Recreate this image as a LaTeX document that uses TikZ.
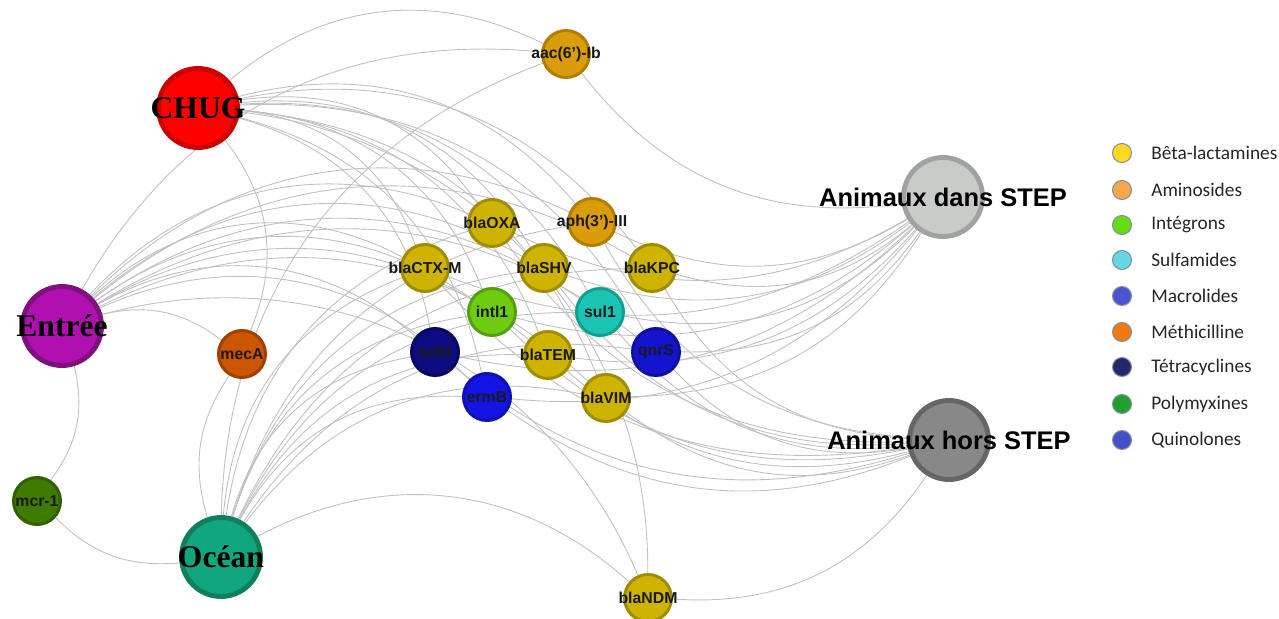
\documentclass[tikz,border=0pt]{standalone}
\usepackage{fontspec}
\setmainfont{Liberation Serif}
\setsansfont{Liberation Sans}
\newfontfamily\legfont{Carlito}
\usetikzlibrary{backgrounds}
\definecolor{linkgray}{RGB}{192,192,192}
\definecolor{betafill}{RGB}{206,180,0}
\definecolor{betadraw}{RGB}{160,140,0}
\definecolor{aminofill}{RGB}{218,156,10}
\definecolor{aminodraw}{RGB}{176,125,0}
\definecolor{integfill}{RGB}{110,204,16}
\definecolor{integdraw}{RGB}{80,160,16}
\definecolor{sulffill}{RGB}{28,196,180}
\definecolor{sulfdraw}{RGB}{16,160,144}
\definecolor{tetrafill}{RGB}{12,12,128}
\definecolor{tetradraw}{RGB}{8,8,96}
\definecolor{quinofill}{RGB}{20,20,208}
\definecolor{quinodraw}{RGB}{16,16,160}
\definecolor{macrofill}{RGB}{20,20,228}
\definecolor{macrodraw}{RGB}{16,16,176}
\definecolor{methifill}{RGB}{204,85,0}
\definecolor{methidraw}{RGB}{160,64,0}
\definecolor{polyfill}{RGB}{64,122,0}
\definecolor{polydraw}{RGB}{48,96,0}
\definecolor{chugfill}{RGB}{255,0,0}
\definecolor{chugdraw}{RGB}{204,0,0}
\definecolor{entreefill}{RGB}{176,16,176}
\definecolor{entreedraw}{RGB}{128,16,128}
\definecolor{oceanfill}{RGB}{18,166,126}
\definecolor{oceandraw}{RGB}{14,128,96}
\definecolor{dansfill}{RGB}{200,204,200}
\definecolor{dansdraw}{RGB}{160,162,160}
\definecolor{horsfill}{RGB}{136,136,136}
\definecolor{horsdraw}{RGB}{102,102,102}
\definecolor{legborder}{RGB}{128,144,160}
\definecolor{legbeta}{RGB}{255,217,31}
\definecolor{legamino}{RGB}{245,168,74}
\definecolor{leginteg}{RGB}{102,221,17}
\definecolor{legsulf}{RGB}{102,214,224}
\definecolor{legmacro}{RGB}{75,85,209}
\definecolor{legmethi}{RGB}{240,122,16}
\definecolor{legtetra}{RGB}{34,40,106}
\definecolor{legpoly}{RGB}{34,160,46}
\definecolor{legquino}{RGB}{68,80,198}

\begin{document}
\begin{tikzpicture}[x=0.02cm, y=-0.02cm,
  site/.style={circle, inner sep=0pt, minimum size=1.58cm, line width=2.8pt},
  sitetext/.style={font=\fontsize{18}{18}\selectfont\bfseries, text=black},
  stationtext/.style={font=\sffamily\fontsize{14.5}{14.5}\selectfont\bfseries, text=black},
  gene/.style={circle, inner sep=0pt, minimum size=0.94cm, line width=1.7pt, label={[genetext]center:#1}},
  genetext/.style={font=\sffamily\fontsize{9}{9}\selectfont\bfseries, text=black!90},
  beta/.style={fill=betafill, draw=betadraw},
  amino/.style={fill=aminofill, draw=aminodraw},
  link/.style={draw=linkgray, line width=0.5pt},
  legdot/.style={circle, inner sep=0pt, minimum size=0.38cm, draw=legborder, line width=0.6pt},
  legtext/.style={anchor=west, inner sep=0pt, text=black!85, font=\legfont\fontsize{11}{11}\selectfont}]
\useasboundingbox (0,0) rectangle (1279,619);
\clip (0,0) rectangle (1279,619);

\node[site, fill=chugfill, draw=chugdraw, label={[sitetext]center:CHUG}] (chug) at (198,108) {};
\node[site, fill=entreefill, draw=entreedraw, label={[sitetext]center:Entrée}] (entree) at (62,326) {};
\node[site, fill=oceanfill, draw=oceandraw, label={[sitetext]center:Océan}] (ocean) at (221,557) {};
\node[site, fill=dansfill, draw=dansdraw, label={[stationtext]center:Animaux dans STEP}] (dans) at (943,197) {};
\node[site, fill=horsfill, draw=horsdraw, label={[stationtext]center:Animaux hors STEP}] (hors) at (949,440) {};

\node[gene={aac(6')-Ib}, amino] (aac) at (566,54) {};
\node[gene={aph(3')-III}, amino] (aph) at (592,222) {};
\node[gene=blaOXA, beta] (oxa) at (492,223) {};
\node[gene=blaCTX-M, beta] (ctx) at (425,268) {};
\node[gene=blaSHV, beta] (shv) at (544,268) {};
\node[gene=blaKPC, beta] (kpc) at (652,268) {};
\node[gene=intl1, fill=integfill, draw=integdraw] (intl) at (492,312) {};
\node[gene=sul1, fill=sulffill, draw=sulfdraw] (sul) at (600,312) {};
\node[gene=tetM, fill=tetrafill, draw=tetradraw] (tetm) at (435,352) {};
\node[gene=blaTEM, beta] (tem) at (548,355) {};
\node[gene=qnrS, fill=quinofill, draw=quinodraw] (qnrs) at (656,352) {};
\node[gene=ermB, fill=macrofill, draw=macrodraw] (ermb) at (487,397) {};
\node[gene=blaVIM, beta] (vim) at (606,398) {};
\node[gene=mecA, fill=methifill, draw=methidraw] (meca) at (242,354) {};
\node[gene=mcr-1, fill=polyfill, draw=polydraw] (mcr) at (37,501) {};
\node[gene=blaNDM, beta] (ndm) at (648,598) {};

\begin{scope}[on background layer]
\foreach \s/\b in {chug/32, entree/35, ocean/32, dans/28, hors/28}
  \foreach \g in {oxa,ctx,shv,kpc,aph,intl,sul,tetm,tem,qnrs,ermb,vim}
    \draw[link] (\s) to[bend left=\b] (\g);
\draw[link] (chug) to[bend left=33] (aac);
\draw[link] (entree) to[bend left=33] (aac);
\draw[link] (ocean) to[bend left=34] (aac);
\draw[link] (dans) to[bend left=30] (aac);
\draw[link] (chug) to[bend left=30] (meca);
\draw[link] (entree) to[bend left=25] (meca);
\draw[link] (ocean) to[bend left=25] (meca);
\draw[link] (entree) to[bend left=25] (mcr);
\draw[link] (ocean) to[bend left=25] (mcr);
\draw[link] (ocean) to[bend left=35] (ndm);
\draw[link] (hors) to[bend left=30] (ndm);
\draw[link] (chug) to[bend left=42] (ndm);
\draw[link] (entree) to[bend left=41] (ndm);
\end{scope}

\foreach \y/\c/\t [count=\i] in {153/legbeta/Bêta-lactamines, 190/legamino/Aminosides,
    225/leginteg/Intégrons, 260/legsulf/Sulfamides, 296/legmacro/Macrolides,
    332/legmethi/Méthicilline, 367/legtetra/Tétracyclines, 404/legpoly/Polymyxines,
    440/legquino/Quinolones}{
  \node[legdot, fill=\c] (dot\i) at (1122,\y) {};
  \node[legtext] (leg\i) at (1151,\y) {\t};
}
\end{tikzpicture}
\end{document}
